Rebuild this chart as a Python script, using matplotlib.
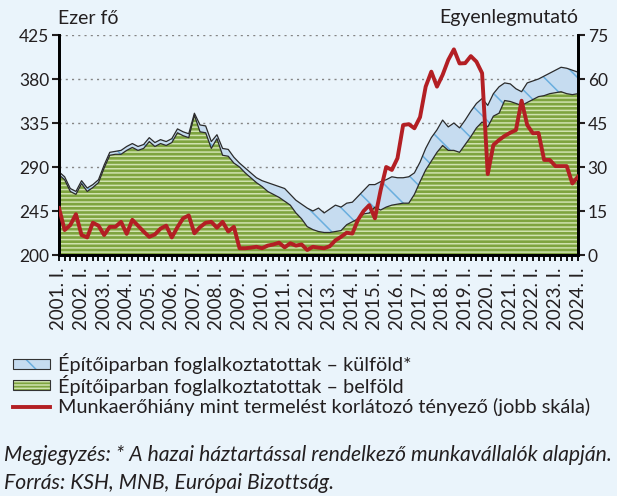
import numpy as np
import matplotlib
matplotlib.use('Agg')
import matplotlib.pyplot as plt
from matplotlib.patches import Rectangle
from matplotlib.lines import Line2D

# negyedéves adatok, 2001. I. - 2024. I.
YEARS = list(range(2001, 2025))

# Építőiparban foglalkoztatottak összesen (belföld + külföld), ezer fő
TOTAL = [285, 280, 268, 265, 276, 268.5, 272, 277, 292, 305,
         306, 307, 311, 314, 311, 313, 320, 315, 318, 316,
         319, 329, 326, 324, 345, 333, 332, 316, 323, 309,
         308, 300, 294, 289, 284, 279, 276, 274, 272, 270,
         268, 262, 256, 252, 248, 245, 248, 243, 247, 251,
         249, 253, 254, 260, 266, 272, 272, 275, 277, 280,
         279, 279, 280, 284, 295, 309, 320, 328, 338, 331,
         335, 330, 338, 347, 355, 360, 353, 365, 372, 376,
         375, 370, 367, 376, 378, 380, 383, 386, 389, 392,
         391, 389, 387]

# Építőiparban foglalkoztatottak - belföld, ezer fő
DOMESTIC = [282, 277, 265, 262, 273, 265, 269, 274, 289, 302,
            303, 303, 307, 310, 307, 309, 316, 311, 314, 312,
            315, 325, 322, 320, 343, 326, 325, 309, 319, 302,
            301, 294, 290, 284, 279, 274, 270, 265, 262, 259,
            255, 251, 243, 237, 229, 226, 224, 223, 223, 224,
            225, 231, 234, 237, 242, 243, 249, 246, 249, 251,
            252, 253, 253, 262, 275, 287, 296, 305, 312, 307,
            307, 305, 313, 321, 330, 336, 331, 342, 345, 358,
            357, 355, 353, 356, 359, 362, 363, 365, 366, 367,
            365, 364, 365]

# Munkaerőhiány mint termelést korlátozó tényező (egyenlegmutató)
SHORTAGE = [16, 8.5, 10.2, 13.9, 6.8, 6, 11, 10, 6.8, 9.6,
            9.6, 11.3, 7.2, 12, 10, 8, 6.2, 7, 9, 10,
            6, 9.5, 12.5, 13.5, 7.4, 9.5, 11, 11.3, 9.3, 11.3,
            8, 9.6, 2.3, 2.3, 2.5, 2.8, 2.3, 3.2, 3.6, 4.2,
            2.6, 4, 3.2, 3.6, 1.7, 2.8, 2.5, 2.3, 3, 5,
            6.2, 7.6, 7.3, 12, 15, 17, 12.5, 22, 30, 29,
            33, 44.3, 44.6, 43.2, 47, 57.4, 62.5, 57.4, 61.4, 66.5,
            70.1, 65.3, 65.4, 67.8, 65.9, 62, 27.6, 37.5, 39.2, 40.6,
            41.7, 42.6, 52.6, 44.3, 41.5, 41.6, 32.4, 32.4, 30.3, 30.3,
            30.3, 24.4, 26.7]

LEFT_TICKS = [200, 245, 290, 335, 380, 425]
RIGHT_TICKS = [0, 15, 30, 45, 60, 75]

LEGEND_LABELS = ['Építőiparban foglalkoztatottak – külföld*',
                 'Építőiparban foglalkoztatottak – belföld',
                 'Munkaerőhiány mint termelést korlátozó tényező (jobb skála)']

BG = '#eaf4fb'
TXT = '#231f20'
GREEN = '#7ea43f'
GREEN_L = '#cfe2ae'
BLUE = '#c6dcf0'
BLUE_H = '#6aaede'
RED = '#b31f24'

W, H = 617, 496


def fx(x):
    return x / W


def fy(y):
    return 1 - y / H


plt.rcParams['font.family'] = ['Lato', 'DejaVu Sans']
plt.rcParams['hatch.linewidth'] = 1.1

fig = plt.figure(figsize=(W / 100, H / 100), dpi=100, facecolor=BG)
ax = fig.add_axes([fx(59), fy(255), 519 / W, 220 / H])
ax.set_facecolor(BG)

q = np.arange(len(TOTAL))

ax.fill_between(q, 200, DOMESTIC, facecolor=GREEN, edgecolor=GREEN_L,
                hatch='----', linewidth=0, zorder=2)
ax.fill_between(q, DOMESTIC, TOTAL, facecolor=BLUE, edgecolor=BLUE_H,
                hatch='\\', linewidth=0, zorder=2)
ax.plot(q, TOTAL, color='#2b2b2b', lw=0.9, zorder=3)
ax.plot(q, DOMESTIC, color='#2b2b2b', lw=0.9, zorder=3)

ax.set_xlim(0, len(TOTAL) - 1)
ax.set_ylim(200, 425)
ax.set_yticks(LEFT_TICKS)
ax.set_yticklabels([str(v) for v in LEFT_TICKS])
ax.set_axisbelow(True)
ax.yaxis.grid(True, color='#858585', linestyle=(0, (1.5, 3.0)), lw=1.0)

year_pos = [(y - 2001) * 4 for y in YEARS]
ax.set_xticks(year_pos)
ax.set_xticklabels([f'{y}. I.' for y in YEARS], rotation=90, fontsize=13.5, color=TXT)
ax.set_xticks(q, minor=True)
ax.tick_params(axis='x', which='both', direction='out', length=4, width=1.3, pad=5)
ax.tick_params(axis='y', direction='out', length=5, width=1.5, labelsize=12.5, colors=TXT, pad=2)

ax.spines['top'].set_visible(False)
for s in ['left', 'bottom', 'right']:
    ax.spines[s].set_linewidth(2)
    ax.spines[s].set_color('black')

ax2 = ax.twinx()
ax2.plot(q, SHORTAGE, color=RED, lw=2.8, zorder=4)
ax2.set_ylim(0, 75)
ax2.set_yticks(RIGHT_TICKS)
ax2.tick_params(axis='y', direction='out', length=5, width=1.5, labelsize=12.5, colors=TXT, pad=2)
ax2.spines['top'].set_visible(False)
for s in ['left', 'bottom', 'right']:
    ax2.spines[s].set_linewidth(2)
    ax2.spines[s].set_color('black')

fig.text(fx(58), fy(18), 'Ezer fő', fontsize=14, color=TXT, ha='left', va='center')
fig.text(fx(578), fy(18), 'Egyenlegmutató', fontsize=14, color=TXT, ha='right', va='center')

# jelmagyarázat kézzel
rows = [364, 385, 407]
x0, x1 = 13, 50
ph = 10
fig.add_artist(Rectangle((fx(x0), fy(rows[0] + ph / 2)), (x1 - x0) / W, ph / H,
                         transform=fig.transFigure, facecolor=BLUE, edgecolor=BLUE_H,
                         hatch='\\', linewidth=0))
fig.add_artist(Rectangle((fx(x0), fy(rows[0] + ph / 2)), (x1 - x0) / W, ph / H,
                         transform=fig.transFigure, fill=False, edgecolor='#333333', linewidth=0.8))
fig.add_artist(Rectangle((fx(x0), fy(rows[1] + ph / 2)), (x1 - x0) / W, ph / H,
                         transform=fig.transFigure, facecolor=GREEN, edgecolor=GREEN_L,
                         hatch='-----', linewidth=0))
fig.add_artist(Rectangle((fx(x0), fy(rows[1] + ph / 2)), (x1 - x0) / W, ph / H,
                         transform=fig.transFigure, fill=False, edgecolor='#333333', linewidth=0.8))
fig.add_artist(Line2D([fx(x0), fx(x1)], [fy(rows[2]), fy(rows[2])],
                      transform=fig.transFigure, color=RED, lw=2.8))
for r, lab in zip(rows, LEGEND_LABELS):
    fig.text(fx(58), fy(r), lab, fontsize=14.3, color=TXT, ha='left', va='center')

fig.text(fx(4), fy(455),
         'Megjegyzés: * A hazai háztartással rendelkező munkavállalók alapján.',
         fontsize=15.25, style='italic', color=TXT, ha='left', va='center')
fig.text(fx(4), fy(483), 'Forrás: KSH, MNB, Európai Bizottság.',
         fontsize=15.25, style='italic', color=TXT, ha='left', va='center')

fig.savefig('out.png', dpi=100, facecolor=BG)
